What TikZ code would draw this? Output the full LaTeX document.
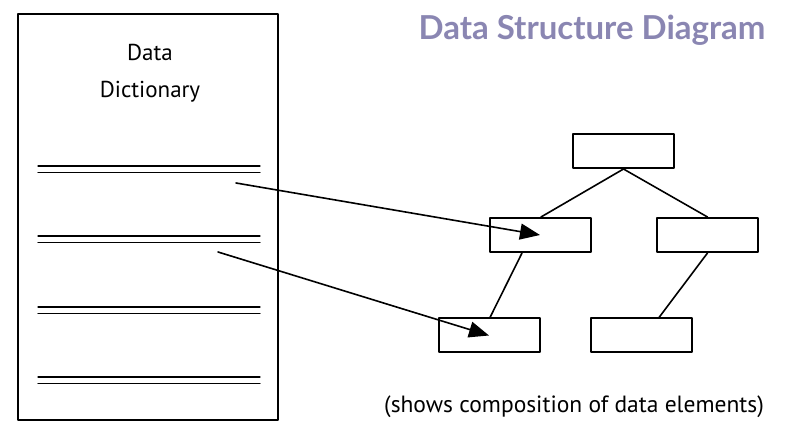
\documentclass[tikz,border=0pt]{standalone}
\usepackage{fontspec}
\setmainfont{PT Sans}
\newfontfamily\titlefont{Lato}
\usepackage{xcolor}
\usepackage{tikz}
\usetikzlibrary{arrows.meta}
\definecolor{titolo}{RGB}{138,134,178}

\begin{document}
\begin{tikzpicture}[x=1pt, y=-1pt, >={Triangle[length=20pt, width=16pt]},
    line cap=round, line join=round,
    blocco/.style={draw, line width=2pt, minimum width=101pt, minimum height=34pt, inner sep=0pt},
    freccia/.style={->, line width=1.6pt},
    ramo/.style={line width=1.6pt},
    riga/.style={line width=1.1pt}]

    \useasboundingbox (0,0) rectangle (790,438);

    % Titolo
    \node[text=titolo, font=\titlefont\bfseries\fontsize{33}{36}\selectfont] (titolo) at (592,30) {Data Structure Diagram};

    % Foglio del dizionario
    \draw[line width=2pt] (18,14) rectangle (278,420);
    \node[font=\fontsize{23}{37}\selectfont, align=center] (dizionario) at (150,73) {Data\\Dictionary};

    % Righe doppie
    \foreach \y in {166,236,307,377} {
        \draw[riga] (38,\y) -- (260,\y);
        \draw[riga] (38,\y+6.5) -- (260,\y+6.5);
    }
    \coordinate (voce1) at (236,183);
    \coordinate (voce2) at (218,252);

    % Blocchi
    \node[blocco] (radice) at (623.5,151) {};
    \node[blocco] (medsx) at (540,235) {};
    \node[blocco] (meddx) at (707.5,235) {};
    \node[blocco] (bassx) at (489,335.5) {};
    \node[blocco] (basdx) at (641,335.5) {};

    % Rami
    \draw[ramo] (radice.south) -- ([xshift=1pt]medsx.north);
    \draw[ramo] (radice.south) -- (meddx.north);
    \draw[ramo] ([xshift=-18pt]medsx.south) -- ([xshift=1pt]bassx.north);
    \draw[ramo] (meddx.south) -- ([xshift=18pt]basdx.north);

    % Frecce
    \draw[freccia] (voce1) -- (medsx.center);
    \draw[freccia] (voce2) -- (bassx.center);

    % Didascalia
    \node[font=\fontsize{23.5}{26}\selectfont] (didascalia) at (574,407) {(shows composition of data elements)};

\end{tikzpicture}
\end{document}
